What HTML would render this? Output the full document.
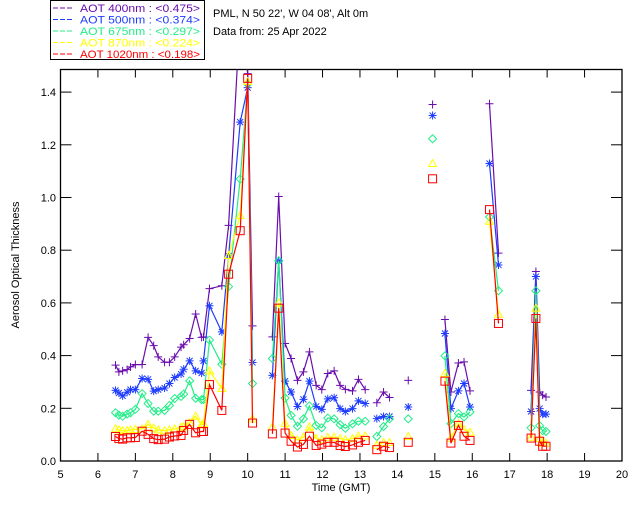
<!DOCTYPE html>
<html><head><meta charset="utf-8">
<style>
html,body{margin:0;padding:0;background:#fff;}
svg{display:block;font-family:"Liberation Sans",sans-serif;}
</style></head>
<body>
<svg id="chart" width="640" height="512" xmlns="http://www.w3.org/2000/svg">
  <defs><clipPath id="plotclip"><rect x="60.5" y="69.5" width="561.5" height="391.5"/></clipPath></defs>
  <rect x="0" y="0" width="640" height="512" fill="#fff"/>
  <g>
    <rect x="50.5" y="0.5" width="154" height="59" fill="none" stroke="#000" stroke-width="1"/>
    <g id="legend-items" font-size="11"></g>
  </g>
  <text x="213" y="17" font-size="11" fill="#000">PML, N 50 22', W 04 08', Alt 0m</text>
  <text x="213" y="35" font-size="11" fill="#000">Data from: 25 Apr 2022</text>
  <g id="axes"></g>
  <g id="series" clip-path="url(#plotclip)"></g>
  <text x="341" y="491" font-size="11" text-anchor="middle">Time (GMT)</text>
  <text x="19" y="265" font-size="11" text-anchor="middle" transform="rotate(-90 19 265)">Aerosol Optical Thickness</text>
</svg>
<script>
const times = [6.47,6.56,6.66,6.78,6.87,7.0,7.18,7.34,7.49,7.61,7.78,7.91,8.05,8.22,8.29,8.45,8.61,8.77,8.82,8.98,9.31,9.49,9.80,10.0,10.13,null,
 10.66,10.83,11.0,11.16,11.33,11.49,11.65,11.83,11.98,12.14,12.31,12.47,12.61,12.80,12.96,13.14,null,
 13.45,13.63,13.79,null,14.29,null,14.94,null,15.27,15.43,15.63,15.78,15.94,null,16.46,16.70,null,17.57,17.70,17.80,17.88,17.97];
const aot400 = [0.364,0.338,0.342,0.347,0.357,0.366,0.366,0.469,0.438,0.395,0.375,0.375,0.395,0.432,0.441,0.465,0.558,0.469,0.471,0.654,0.665,0.894,1.70,1.47,0.513,null,
 0.471,1.004,0.446,0.389,0.306,0.338,0.414,0.287,0.271,0.332,0.342,0.287,0.272,0.266,0.310,0.271,null,
 0.221,0.262,0.241,null,0.306,null,1.353,null,0.537,0.262,0.372,0.376,0.266,null,1.356,0.789,null,0.268,0.719,0.262,0.250,0.243];
const aot500 = [0.268,0.258,0.247,0.261,0.271,0.271,0.313,0.310,0.265,0.271,0.277,0.294,0.317,0.330,0.348,0.380,0.342,0.334,0.380,0.589,0.490,0.778,1.286,1.417,0.374,null,
 0.325,0.759,0.303,0.262,0.207,0.234,0.303,0.207,0.196,0.236,0.240,0.199,0.188,0.199,0.228,0.218,null,
 0.161,0.169,0.169,null,0.205,null,1.311,null,0.484,0.199,0.266,0.294,0.205,null,1.129,0.744,null,0.188,0.700,0.199,0.178,0.178];
const aot675 = [0.183,0.174,0.170,0.178,0.183,0.196,0.256,0.218,0.189,0.189,0.192,0.211,0.237,0.245,0.254,0.304,0.238,0.233,0.233,0.459,0.367,0.662,1.070,1.430,0.294,null,
 0.389,0.760,0.239,0.173,0.132,0.160,0.209,0.135,0.126,0.163,0.160,0.138,0.124,0.141,0.151,0.151,null,
 0.093,0.131,0.160,null,0.160,null,1.223,null,0.399,0.142,0.180,0.167,0.186,null,0.926,0.646,null,0.126,0.646,0.134,0.115,0.112];
const aot870 = [0.122,0.118,0.115,0.115,0.118,0.120,0.122,0.139,0.125,0.118,0.115,0.118,0.122,0.128,0.130,0.145,0.170,0.137,0.142,0.342,0.275,0.780,0.931,1.440,0.160,null,
 0.129,0.600,0.143,0.097,0.080,0.090,0.129,0.085,0.080,0.090,0.090,0.085,0.080,0.085,0.095,0.095,null,
 0.060,0.070,0.070,null,0.093,null,1.129,null,0.332,0.087,0.142,0.119,0.109,null,0.910,0.557,null,0.090,0.580,0.085,0.068,0.068];
const aot1020 = [0.093,0.085,0.083,0.088,0.088,0.089,0.113,0.101,0.085,0.081,0.083,0.091,0.095,0.097,0.116,0.139,0.107,0.112,0.112,0.290,0.192,0.709,0.874,1.452,0.144,null,
 0.103,0.580,0.106,0.075,0.053,0.063,0.094,0.059,0.064,0.071,0.071,0.059,0.055,0.061,0.071,0.078,null,
 0.043,0.056,0.051,null,0.071,null,1.071,null,0.303,0.068,0.135,0.094,0.078,null,0.954,0.522,null,0.087,0.541,0.075,0.056,0.056];
const xTicks = [5,6,7,8,9,10,11,12,13,14,15,16,17,18,19,20];
const yTicks = [0.0,0.2,0.4,0.6,0.8,1.0,1.2,1.4];
const legendLabels = ["AOT  400nm : <0.475>","AOT  500nm : <0.374>","AOT  675nm : <0.297>","AOT  870nm : <0.224>","AOT 1020nm : <0.198>"];

const NS="http://www.w3.org/2000/svg";
const X0=60.5,X1=622,Y0=461,Y1=69.5;
function xs(t){return X0+(t-5)*(X1-X0)/15;}
function ys(v){return Y0-v*263.5;}
function mk(tag,attrs,parent){const e=document.createElementNS(NS,tag);for(const k in attrs)e.setAttribute(k,attrs[k]);parent.appendChild(e);return e;}

const axes=document.getElementById('axes');
mk('rect',{x:X0,y:Y1,width:X1-X0,height:Y0-Y1,fill:'none',stroke:'#000','stroke-width':1.3},axes);
xTicks.forEach(t=>{
  const x=xs(t);
  const b=mk('line',{x1:x,x2:x,y1:Y0,y2:Y0-8,stroke:'#000'},axes);
  
  
  mk('line',{x1:x,x2:x,y1:Y1,y2:Y1+8,stroke:'#000'},axes);
  const l=mk('text',{x:x,y:478,'font-size':11,'text-anchor':'middle'},axes);
  l.textContent=t;
  
  
});
yTicks.forEach(v=>{
  const y=ys(v);
  const a=mk('line',{x1:X0,x2:X0+11,y1:y,y2:y,stroke:'#000'},axes);
  
  
  mk('line',{x1:X1,x2:X1-11,y1:y,y2:y,stroke:'#000'},axes);
  const l=mk('text',{x:56,y:y+4,'font-size':11,'text-anchor':'end'},axes);
  l.textContent=v.toFixed(1);
  
  
});

const colors=['#6a0dad','#1e3cff','#22ee88','#ffff00','#ff0000'];
const seriesData=[aot400,aot500,aot675,aot870,aot1020];
const names=['aot-400','aot-500','aot-675','aot-870','aot-1020'];
const markers=['plus','star','diamond','triangle','square'];
function marker(type,x,y,c,g){
  const s={stroke:c,fill:'none','stroke-width':1};
  if(type==='plus'){mk('path',Object.assign({d:`M${x-4},${y}H${x+4}M${x},${y-4}V${y+4}`},s),g);}
  else if(type==='star'){mk('path',Object.assign({d:`M${x-4},${y}H${x+4}M${x},${y-4}V${y+4}M${x-3},${y-3}L${x+3},${y+3}M${x-3},${y+3}L${x+3},${y-3}`,'stroke-width':1.6},s),g);}
  else if(type==='diamond'){mk('path',Object.assign({d:`M${x},${y-4}L${x+4},${y}L${x},${y+4}L${x-4},${y}Z`},s),g);}
  else if(type==='triangle'){mk('path',Object.assign({d:`M${x},${y-4}L${x+4},${y+3}L${x-4},${y+3}Z`},s),g);}
  else {mk('rect',Object.assign({x:x-4,y:y-4,width:8,height:8,'stroke-width':1.3},s),g);}
}
const sg=document.getElementById('series');
seriesData.forEach((vals,i)=>{
  const g=mk('g',{},sg);
  
  
  let d='',pen=false;
  times.forEach((t,j)=>{
    if(t===null||vals[j]===null){pen=false;return;}
    d+=(pen?'L':'M')+xs(t).toFixed(1)+','+ys(vals[j]).toFixed(1);pen=true;
  });
  const p=mk('path',{d:d,fill:'none',stroke:colors[i],'stroke-width':1.2},g);
  
  
  times.forEach((t,j)=>{
    if(t===null||vals[j]===null)return;
    marker(markers[i],xs(t),ys(vals[j]),colors[i],g);
  });
});

const lg=document.getElementById('legend-items');
legendLabels.forEach((lab,i)=>{
  const y=12+i*11.5;
  const ln=mk('line',{x1:53,x2:72,y1:y-4,y2:y-4,stroke:colors[i],'stroke-dasharray':'5,2'},lg);
  const t=mk('text',{x:80,y:y,fill:colors[i],'xml:space':'preserve','font-size':11,textLength:120,lengthAdjust:'spacingAndGlyphs'},lg);
  t.textContent=lab;
  
  
});
</script>
</body></html>
